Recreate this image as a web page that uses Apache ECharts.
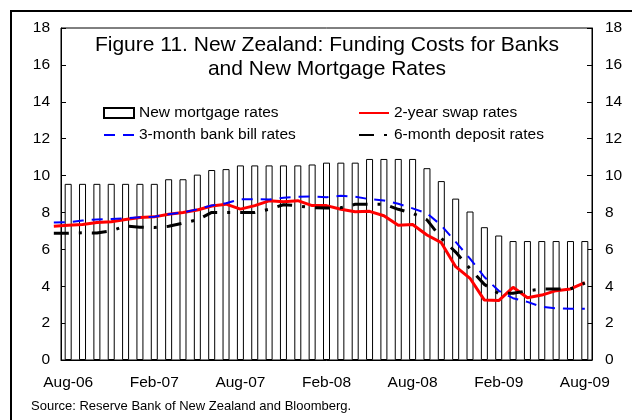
<!DOCTYPE html>
<html>
<head>
<meta charset="utf-8">
<script src="https://cdn.jsdelivr.net/npm/echarts@6/dist/echarts.min.js"></script>
<style>
  html, body { margin: 0; padding: 0; background: #fff; }
  #container { width: 632px; height: 420px; }
</style>
</head>
<body>
<div id="container"></div>
<script>
// months shown on the bar axis
let months = ["Aug-06","Sep-06","Oct-06","Nov-06","Dec-06","Jan-07","Feb-07","Mar-07","Apr-07","May-07","Jun-07","Jul-07",
  "Aug-07","Sep-07","Oct-07","Nov-07","Dec-07","Jan-08","Feb-08","Mar-08","Apr-08","May-08","Jun-08","Jul-08",
  "Aug-08","Sep-08","Oct-08","Nov-08","Dec-08","Jan-09","Feb-09","Mar-09","Apr-09","May-09","Jun-09","Jul-09","Aug-09"];
// the lines start one month earlier
let lineMonths = ["Jul-06"].concat(months);

let mortgage = [9.55, 9.55, 9.55, 9.55, 9.55, 9.55, 9.55, 9.8, 9.8, 10.05, 10.3, 10.35,
  10.55, 10.55, 10.55, 10.55, 10.55, 10.6, 10.7, 10.7, 10.7, 10.9, 10.9, 10.9,
  10.9, 10.4, 9.7, 8.75, 8.05, 7.2, 6.75, 6.45, 6.45, 6.45, 6.45, 6.45, 6.45];
let swap = [7.25, 7.3, 7.35, 7.45, 7.5, 7.62, 7.72, 7.76, 7.9, 8.0, 8.13, 8.35, 8.45,
  8.18, 8.37, 8.63, 8.58, 8.64, 8.37, 8.37, 8.17, 8.04, 8.06, 7.82, 7.3,
  7.35, 6.78, 6.36, 5.06, 4.43, 3.25, 3.22, 3.94, 3.38, 3.52, 3.76, 3.85, 4.19];
let bill = [7.45, 7.47, 7.56, 7.62, 7.65, 7.68, 7.74, 7.77, 7.9, 8.0, 8.17, 8.38, 8.5,
  8.72, 8.72, 8.7, 8.8, 8.85, 8.86, 8.82, 8.9, 8.85, 8.72, 8.65, 8.47,
  8.22, 7.95, 7.3, 6.4, 5.5, 4.5, 3.75, 3.35, 3.15, 2.88, 2.8, 2.78, 2.78];
let deposit = [6.87, 6.87, 6.9, 6.88, 7.0, 7.27, 7.2, 7.18, 7.25, 7.42, 7.6, 8.0, 8.0,
  8.0, 8.0, 8.17, 8.42, 8.36, 8.25, 8.24, 8.26, 8.44, 8.44, 8.45, 8.17,
  7.95, 7.6, 6.6, 5.85, 4.95, 4.1, 3.6, 3.62, 3.75, 3.85, 3.85, 3.85, 4.17];

let font = "Liberation Sans";
let dom = document.getElementById("container");
let myChart = echarts.init(dom, null, { renderer: "canvas" });

let yAxisBase = {
  type: "value",
  min: 0,
  max: 18,
  interval: 2,
  gridIndex: 0,
  splitLine: { show: false },
  axisLine: { show: true, lineStyle: { color: "#000", width: 1 } },
  axisTick: { show: true, inside: true, length: 5, lineStyle: { color: "#000" } },
  axisLabel: { color: "#000", fontFamily: font, fontSize: 15.5, margin: 11 },
};
// hide the round marker echarts puts in the middle of line legend icons
let noMarker = { color: "rgba(0,0,0,0)", borderColor: "rgba(0,0,0,0)", opacity: 0 };

let option = {
  animation: false,
  backgroundColor: "#fff",
  graphic: [
    {
      type: "rect",
      shape: { x: 11, y: 11, width: 700, height: 500 },
      style: { fill: "none", stroke: "#000", lineWidth: 2 },
      silent: true,
    },
    {
      type: "text",
      x: 327,
      y: 45,
      style: { text: "Figure 11. New Zealand: Funding Costs for Banks", fontFamily: font, fontSize: 21, fill: "#000", align: "center", verticalAlign: "middle" },
    },
    {
      type: "text",
      x: 327,
      y: 69,
      style: { text: "and New Mortgage Rates", fontFamily: font, fontSize: 21, fill: "#000", align: "center", verticalAlign: "middle" },
    },
    {
      type: "text",
      x: 31,
      y: 406,
      style: { text: "Source: Reserve Bank of New Zealand and Bloomberg.", fontFamily: font, fontSize: 13, fill: "#000", align: "left", verticalAlign: "middle" },
    },
  ],
  legend: [
    {
      data: [
        { name: "New mortgage rates", icon: "rect" },
        { name: "3-month bank bill rates", itemStyle: noMarker },
      ],
      orient: "vertical",
      left: 98,
      top: 100,
      itemWidth: 30,
      itemHeight: 10,
      itemGap: 6,
      selectedMode: false,
      textStyle: { color: "#000", fontFamily: font, fontSize: 15.5 },
    },
    {
      data: [
        { name: "2-year swap rates", itemStyle: noMarker },
        { name: "6-month deposit rates", itemStyle: noMarker },
      ],
      orient: "vertical",
      left: 353,
      top: 100,
      itemWidth: 30,
      itemHeight: 10,
      itemGap: 6,
      selectedMode: false,
      textStyle: { color: "#000", fontFamily: font, fontSize: 15.5 },
    },
  ],
  grid: [
    { left: 61, right: 40, top: 28, bottom: 60, show: true, borderColor: "#000", borderWidth: 1 },
    { left: 46.65, right: 40, top: 28, bottom: 60 },
  ],
  xAxis: [
    {
      type: "category",
      gridIndex: 0,
      data: months,
      boundaryGap: true,
      axisLine: { lineStyle: { color: "#000", width: 1 } },
      axisTick: { inside: true, length: 5, interval: 5, lineStyle: { color: "#000" } },
      axisLabel: { interval: 5, color: "#000", fontFamily: font, fontSize: 15.5, margin: 15 },
    },
    {
      type: "category",
      gridIndex: 1,
      data: lineMonths,
      boundaryGap: true,
      show: false,
    },
  ],
  yAxis: [
    Object.assign({}, yAxisBase, { position: "left" }),
    Object.assign({}, yAxisBase, { position: "right", axisLabel: Object.assign({}, yAxisBase.axisLabel, { margin: 13 }) }),
    { type: "value", gridIndex: 1, min: 0, max: 18, show: false },
  ],
  series: [
    {
      name: "New mortgage rates",
      type: "bar",
      xAxisIndex: 0,
      yAxisIndex: 0,
      barWidth: 7,
      itemStyle: { color: "#fff", borderColor: "#000", borderWidth: 1 },
      data: mortgage,
    },
    {
      name: "2-year swap rates",
      type: "line",
      xAxisIndex: 1,
      yAxisIndex: 2,
      symbol: "none",
      lineStyle: { color: "#ff0000", width: 3 },
      itemStyle: { color: "#ff0000" },
      data: swap,
    },
    {
      name: "3-month bank bill rates",
      type: "line",
      xAxisIndex: 1,
      yAxisIndex: 2,
      symbol: "none",
      lineStyle: { color: "#0000ff", width: 2, type: [11, 8] },
      itemStyle: { color: "#0000ff" },
      data: bill,
    },
    {
      name: "6-month deposit rates",
      type: "line",
      xAxisIndex: 1,
      yAxisIndex: 2,
      symbol: "none",
      lineStyle: { color: "#000", width: 3, type: [15, 10, 3, 10] },
      itemStyle: { color: "#000" },
      data: deposit,
    },
  ],
};

myChart.setOption(option);
window.addEventListener("resize", myChart.resize);
</script>
</body>
</html>
